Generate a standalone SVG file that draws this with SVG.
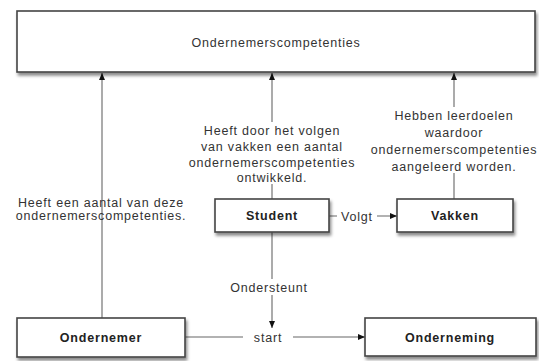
<svg xmlns="http://www.w3.org/2000/svg" width="539" height="361" viewBox="0 0 539 361">
<defs>
<filter id="sh" x="-10%" y="-20%" width="125%" height="160%">
<feDropShadow dx="1.5" dy="3" stdDeviation="1.8" flood-color="#000" flood-opacity="0.45"/>
</filter>
<marker id="ah" markerWidth="8" markerHeight="8" refX="7" refY="4" orient="auto" markerUnits="userSpaceOnUse">
<path d="M0,1 L7,4 L0,7 Z" fill="#111"/>
</marker>
<style>
.box{fill:#fff;stroke:#444;stroke-width:1.6;filter:url(#sh)}
.t{font-family:"Liberation Sans",Arial,sans-serif;font-size:12.5px;letter-spacing:0.8px;fill:#333;text-anchor:middle}
.b{font-weight:bold;fill:#222}
.ln{stroke:#666;stroke-width:1.1;fill:none}
.arr{marker-end:url(#ah)}
.bg{fill:#fff}
</style>
</defs>
<rect width="539" height="361" fill="#fff"/>

<g id="connectors">
<line class="ln arr" x1="102" y1="318" x2="102" y2="73"/>
<text class="t" x="101" y="207">Heeft een aantal van deze</text>
<text class="t" x="101" y="220">ondernemerscompetenties.</text>

<line class="ln arr" x1="272" y1="199" x2="272" y2="73"/>
<rect class="bg" x="190" y="122" width="164" height="62"/>
<text class="t" x="272" y="135">Heeft door het volgen</text>
<text class="t" x="272" y="151">van vakken een aantal</text>
<text class="t" x="272" y="167">ondernemerscompetenties</text>
<text class="t" x="272" y="182">ontwikkeld.</text>

<line class="ln arr" x1="454" y1="199" x2="454" y2="73"/>
<rect class="bg" x="370" y="107" width="168" height="66"/>
<text class="t" x="454" y="120">Hebben leerdoelen</text>
<text class="t" x="454" y="137">waardoor</text>
<text class="t" x="454" y="154">ondernemerscompetenties</text>
<text class="t" x="454" y="171">aangeleerd worden.</text>

<line class="ln arr" x1="329" y1="216" x2="397" y2="216"/>
<rect class="bg" x="337" y="208" width="40" height="16"/>
<text class="t" x="357" y="221">Volgt</text>

<line class="ln arr" x1="272" y1="232" x2="272" y2="328"/>
<rect class="bg" x="228" y="279" width="82" height="16"/>
<text class="t" x="269" y="292">Ondersteunt</text>

<line class="ln arr" x1="185" y1="337" x2="365" y2="337"/>
<rect class="bg" x="243" y="328" width="50" height="18"/>
<text class="t" x="268" y="342">start</text>
</g>

<g id="node-competenties">
<rect class="box" x="17" y="11" width="518" height="61"/>
<text class="t" x="276" y="47">Ondernemerscompetenties</text>
</g>
<g id="node-student">
<rect class="box" x="215" y="199" width="114" height="33"/>
<text class="t b" x="272" y="220">Student</text>
</g>
<g id="node-vakken">
<rect class="box" x="397" y="199" width="116" height="33"/>
<text class="t b" x="455" y="220">Vakken</text>
</g>
<g id="node-ondernemer">
<rect class="box" x="17" y="318" width="168" height="39"/>
<text class="t b" x="101" y="342">Ondernemer</text>
</g>
<g id="node-onderneming">
<rect class="box" x="365" y="318" width="171" height="38"/>
<text class="t b" x="450" y="342">Onderneming</text>
</g>
</svg>
